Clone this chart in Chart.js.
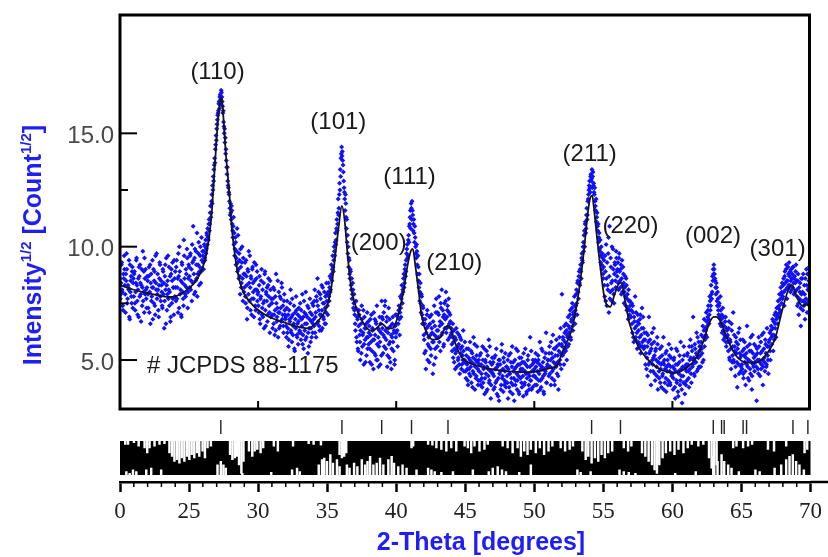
<!DOCTYPE html>
<html>
<head>
<meta charset="utf-8">
<script src="https://cdn.jsdelivr.net/npm/chart.js@4.4.1/dist/chart.umd.min.js"></script>
<style>
  html, body { margin: 0; padding: 0; background: #fff; }
  #wrap { width: 828px; height: 557px; }
</style>
</head>
<body>
<div id="wrap"><canvas id="xrd" width="828" height="557"></canvas></div>
<script>
// observed pattern, sqrt(counts), 2-theta from 20 deg in 0.05 deg steps
const twoThetaStart = 20;
const twoThetaStep = 0.05;
const intensity = [
  8.6,7.9,9.2,8.1,7.4,8.8,9.6,8.3,7.1,8.5,9.0,7.7,8.2,9.4,6.8,8.0,8.7,7.5,9.1,8.4, // 20
  7.8,8.9,7.2,8.4,9.5,7.6,8.1,6.9,8.7,9.2,7.9,8.3,7.4,9.8,8.0,7.1,8.6,9.0,7.7,8.2, // 21
  8.5,7.3,9.1,8.0,6.6,8.8,7.8,9.4,8.2,7.5,8.9,7.0,8.4,9.7,7.9,8.1,6.9,8.6,9.2,7.6, // 22
  8.3,7.4,9.0,7.9,6.4,8.7,8.1,9.5,7.2,8.5,7.7,9.1,8.0,6.7,8.8,7.5,9.3,8.2,7.0,8.6, // 23
  8.9,7.6,9.4,8.2,7.1,8.7,10.0,7.9,8.5,6.9,9.2,8.0,7.4,9.6,8.3,7.8,8.8,9.9,7.3,8.6, // 24
  9.1,8.2,9.7,8.5,7.6,9.3,10.9,8.8,9.5,8.0,9.8,8.6,7.8,9.2,10.2,8.9,9.6,8.4,10.4,9.0, // 25
  9.6,9.0,10.1,9.4,10.3,9.9,10.5,10.8,10.3,11.2,11.0,11.8,11.5,12.3,12.7,13.1,13.4,13.9,14.3,14.9, // 26
  15.2,15.6,15.9,16.3,16.1,16.7,16.5,16.8,16.4,15.9,15.5,15.0,14.6,14.1,13.8,13.2,12.9,12.6,12.3,11.7, // 27
  11.9,11.2,11.6,10.7,10.9,10.1,9.6,10.4,9.2,9.8,8.9,10.5,8.6,9.4,7.9,9.1,8.4,10.0,7.6,8.8, // 28
  8.2,9.3,7.5,8.7,6.8,9.0,7.9,8.4,9.6,7.2,8.6,7.7,9.1,8.0,6.9,8.5,7.4,9.2,8.1,7.6, // 29
  8.0,7.1,8.7,6.6,7.8,9.0,7.3,6.9,8.4,7.6,8.9,6.5,7.9,8.2,7.0,8.6,7.4,6.2,8.1,7.7, // 30
  7.5,6.4,8.2,7.0,6.1,7.8,8.8,6.7,7.3,6.0,8.0,7.1,6.5,7.7,8.4,6.8,7.4,6.2,7.9,7.0, // 31
  6.9,6.0,7.6,6.4,5.6,7.2,6.7,8.1,6.2,5.8,7.0,6.5,7.4,5.4,6.8,7.8,6.1,6.6,5.7,7.3, // 32
  6.3,7.5,5.9,6.8,7.9,6.1,5.5,7.1,6.6,8.0,6.0,6.9,5.3,7.3,6.4,7.7,5.8,6.7,7.0,6.2, // 33
  7.4,6.5,8.1,6.9,6.0,7.6,8.6,6.7,7.2,6.3,7.9,7.0,8.3,6.4,7.5,6.8,8.0,7.3,6.6,8.4, // 34
  7.9,7.0,8.4,7.6,8.7,8.1,9.2,8.5,9.6,8.9,10.0,9.6,10.6,10.3,11.2,11.0,12.1,11.7,12.8,13.4, // 35
  13.9,14.4,14.2,13.6,12.9,12.4,11.6,11.9,10.8,10.2,9.7,9.1,9.4,8.6,8.9,8.1,7.7,8.4,7.3,7.9, // 36
  7.0,6.3,7.6,5.8,6.8,5.4,7.2,6.1,5.0,6.6,7.4,5.6,6.2,4.8,6.9,5.9,6.4,5.2,7.1,6.0, // 37
  5.7,6.5,4.9,6.1,7.0,5.4,6.3,4.6,5.9,6.8,5.2,6.6,7.4,5.0,6.0,5.6,6.9,4.8,6.2,7.6, // 38
  6.4,5.3,7.1,6.0,7.6,5.5,6.7,4.7,6.2,7.3,5.1,5.8,6.5,4.6,6.0,6.9,5.4,6.3,5.0,7.0, // 39
  6.2,7.0,5.6,6.6,7.4,6.1,7.8,6.9,8.3,7.5,8.0,8.8,8.4,9.2,8.9,9.7,10.1,9.6,10.5,10.9, // 40
  11.3,10.8,11.7,12.0,11.4,11.0,10.6,10.9,10.0,9.5,9.8,8.8,9.1,8.2,7.6,8.4,7.1,7.8,6.6,7.3, // 41
  6.1,5.3,6.8,4.6,6.4,7.2,5.7,6.0,4.9,6.6,5.5,7.0,6.2,4.4,5.8,7.4,6.5,5.1,7.7,6.3, // 42
  7.1,6.0,7.8,6.5,5.4,7.3,8.1,6.2,6.9,5.7,7.5,6.8,8.0,6.4,7.2,5.9,7.7,6.6,7.0,6.1, // 43
  6.2,5.4,6.6,5.8,4.9,6.0,5.3,6.4,4.7,5.6,5.1,6.1,4.4,5.5,5.9,4.8,5.2,6.3,4.5,5.0, // 44
  4.9,4.2,5.5,4.6,3.9,5.1,4.4,5.8,4.7,4.0,5.3,4.5,6.0,4.8,3.7,5.0,4.3,5.6,4.6,4.1, // 45
  4.5,5.2,3.9,4.8,4.2,5.6,4.0,4.7,3.5,5.0,4.4,5.4,3.7,4.6,5.9,4.1,4.9,3.3,4.5,5.1, // 46
  4.4,3.7,5.1,4.6,4.0,5.5,3.5,4.8,4.2,3.2,5.0,4.5,3.9,5.7,4.3,3.6,4.9,4.1,5.3,3.8, // 47
  4.7,4.0,3.3,5.2,4.4,3.6,4.9,4.2,5.6,3.9,4.5,3.2,5.0,4.1,4.7,3.7,5.4,4.3,3.5,4.8, // 48
  4.2,5.1,3.8,4.6,3.4,4.9,4.0,5.5,4.4,3.6,4.7,5.2,3.9,4.3,6.0,4.1,3.7,4.8,5.0,4.5, // 49
  4.6,3.9,5.3,4.2,4.9,3.6,5.0,4.4,5.8,4.1,3.8,4.7,5.4,4.3,3.5,5.1,4.5,6.2,4.0,4.8, // 50
  5.0,4.3,5.6,4.7,3.9,5.3,4.5,6.1,4.9,4.1,5.5,4.8,5.9,4.4,5.2,3.7,5.7,5.0,6.4,4.6, // 51
  7.9,5.2,5.9,4.8,6.2,5.5,6.6,5.0,6.0,6.9,5.7,6.4,7.2,5.9,6.8,7.5,6.3,7.0,7.8,6.6, // 52
  7.4,8.1,7.0,8.5,7.7,8.9,8.3,9.2,8.6,9.7,9.3,10.2,10.5,10.0,11.1,10.8,11.7,11.4,12.1,12.5, // 53
  12.9,12.4,13.2,13.0,12.6,13.3,12.8,12.3,12.0,11.6,11.1,11.5,10.7,10.2,10.6,9.8,9.3,10.0,9.0,9.5, // 54
  8.6,9.4,7.8,8.9,10.1,7.4,8.3,9.7,7.1,10.9,8.0,9.1,7.6,8.5,9.9,7.9,8.8,9.2,8.2,9.5, // 55
  8.7,9.3,8.1,9.7,8.5,9.0,7.9,9.4,8.3,8.8,7.5,8.2,7.8,8.6,7.2,7.9,6.8,7.6,7.0,7.4, // 56
  6.9,7.5,6.2,7.1,5.8,6.7,7.8,6.0,6.5,5.5,7.0,6.3,5.7,6.8,5.3,6.1,7.3,5.6,6.4,5.9, // 57
  5.6,4.8,6.2,5.1,4.3,5.8,6.9,4.9,5.4,3.9,5.7,5.0,4.5,6.4,5.2,4.1,5.5,4.7,6.0,3.7, // 58
  4.9,4.2,5.5,4.6,3.8,5.2,4.4,6.0,4.8,4.0,5.3,3.6,4.7,5.0,4.1,5.7,4.5,3.9,5.1,4.3, // 59
  4.4,3.7,5.0,4.6,3.3,4.8,4.1,5.4,3.6,4.5,4.9,3.9,5.8,4.3,3.1,4.7,4.0,5.2,3.5,4.6, // 60
  4.8,4.1,5.3,4.5,3.8,5.0,5.9,4.4,5.6,4.7,6.9,5.1,4.3,5.5,4.9,6.2,5.2,4.6,5.8,5.4, // 61
  5.6,4.7,6.1,5.3,6.5,5.0,6.8,5.9,6.3,7.1,6.0,6.9,7.4,6.6,7.8,7.2,8.3,7.7,8.7,9.0, // 62
  9.2,8.8,8.5,7.9,8.2,7.4,7.7,7.0,7.5,6.6,7.2,6.8,6.2,7.3,5.9,6.5,6.0,6.9,5.6,6.3, // 63
  6.1,5.4,6.7,5.0,5.8,4.6,6.3,5.2,7.1,4.9,5.6,4.3,6.0,5.3,3.8,5.7,4.8,6.4,5.1,4.5, // 64
  5.2,4.6,5.9,4.2,5.5,4.9,3.9,5.3,6.5,4.7,5.0,4.1,5.7,4.4,5.4,3.7,6.1,4.8,5.1,4.5, // 65
  4.9,5.6,3.2,5.3,4.6,6.0,5.0,4.3,5.8,4.8,5.4,3.9,6.2,5.1,4.5,5.7,4.7,6.4,5.2,4.4, // 66
  5.6,6.2,5.0,6.5,5.7,6.8,5.4,6.1,7.0,6.4,6.0,7.3,6.6,7.6,6.9,7.9,7.2,8.2,7.5,8.4, // 67
  7.8,8.6,7.4,8.9,8.1,9.2,7.7,8.5,8.8,9.3,8.3,8.0,9.0,8.6,8.2,9.1,7.9,8.7,8.4,9.2, // 68
  8.1,7.4,8.8,7.0,7.7,8.4,6.5,7.9,8.6,7.2,7.6,8.3,6.8,7.5,9.0,7.1,8.1,7.6,9.1,8.0, // 69
  7.6
];

// the in-between scan points, 2-theta from 20.025 deg in 0.05 deg steps
const halfStart = 20.025;
const intensityHalf = [
  7.7,8.4,9.3,8.0,7.2,8.6,9.0,7.9,8.8,9.7,7.5,8.3,8.1,6.9,9.2,8.5,7.8,8.9,7.3,8.6, // 20
  8.8,7.5,8.0,9.4,8.3,7.0,8.6,9.1,7.8,8.4,6.7,9.0,8.2,7.6,8.9,9.5,7.9,8.1,7.3,8.7, // 21
  7.9,8.7,7.1,9.2,8.4,7.6,8.2,6.8,9.0,8.5,7.4,9.6,8.1,7.7,8.8,7.2,8.3,9.3,7.8,8.5, // 22
  8.0,7.3,8.9,8.4,7.6,9.2,6.6,8.3,7.9,9.6,8.1,7.4,8.7,6.9,9.0,8.5,7.7,8.2,9.4,7.8, // 23
  8.2,9.1,7.7,8.6,9.7,7.3,8.9,8.1,7.0,9.3,8.4,7.7,10.3,8.6,7.9,9.0,8.2,9.5,8.0,9.2, // 24
  8.7,9.6,8.1,9.0,10.1,8.4,9.4,7.9,9.9,8.5,9.2,10.6,8.8,9.7,8.3,9.1,10.0,8.9,9.4,9.8, // 25
  9.3,9.8,9.5,10.0,9.7,10.6,10.1,10.4,11.0,10.7,11.5,11.3,12.0,11.9,12.5,12.9,13.6,13.7,14.5,14.7, // 26
  15.4,15.8,16.0,16.4,16.6,16.3,16.9,16.6,16.2,16.0,15.3,15.2,14.8,14.3,13.5,13.5,12.7,12.4,12.0,11.4, // 27
  11.5,11.8,11.0,10.4,11.3,10.6,9.9,10.2,9.5,10.8,9.3,9.0,9.7,8.7,9.9,8.2,9.3,8.6,9.5,8.0, // 28
  8.8,7.8,9.4,8.3,7.3,8.9,9.8,7.6,8.2,8.7,7.0,9.0,8.4,7.7,9.3,8.1,7.2,8.6,8.9,7.9, // 29
  7.4,8.3,6.8,7.7,8.5,7.0,8.1,7.5,6.4,8.8,7.2,8.0,7.6,6.7,8.3,7.8,7.1,8.5,6.9,7.5, // 30
  7.0,7.7,6.6,8.1,7.2,6.3,7.5,6.9,8.5,7.1,6.4,7.8,7.3,6.7,8.2,7.0,6.5,7.6,7.2,6.8, // 31
  6.5,7.3,6.2,7.0,5.9,6.8,7.5,6.3,6.9,7.7,6.1,6.6,5.5,7.1,6.4,7.2,6.0,7.0,6.7,6.2, // 32
  6.9,6.2,7.2,6.5,5.7,6.9,7.6,6.3,5.9,7.0,6.6,7.4,6.2,5.6,6.8,7.1,6.4,6.0,7.5,6.6, // 33
  6.8,7.6,6.2,7.1,7.8,6.6,7.4,8.0,6.5,7.0,7.7,6.3,7.2,8.2,6.9,7.5,6.6,7.8,7.1,7.6, // 34
  7.4,8.0,7.8,8.2,8.0,8.6,8.8,9.0,9.1,9.4,9.8,10.2,10.1,10.8,10.7,11.5,11.4,12.3,12.5,13.1, // 35
  14.1,14.0,13.8,13.3,12.6,12.1,12.3,11.3,11.2,10.5,10.0,9.5,8.8,9.0,8.3,8.6,7.9,8.1,7.5,7.2, // 36
  6.6,7.3,6.0,6.9,5.5,6.5,7.0,5.8,6.3,5.3,6.8,6.1,7.2,5.7,6.4,4.9,6.6,6.0,5.5,6.7, // 37
  6.2,5.5,6.8,5.8,4.8,6.4,5.9,7.1,5.3,6.1,6.7,5.0,5.7,6.4,4.7,6.3,5.8,6.6,5.2,6.9, // 38
  6.8,6.1,5.6,7.4,6.3,5.9,6.9,5.2,6.4,5.7,6.8,4.9,6.1,5.5,6.6,5.8,6.2,4.8,6.5,6.0, // 39
  6.6,6.3,6.9,7.2,6.8,7.1,7.3,7.7,7.9,8.1,8.6,8.2,9.0,8.7,9.4,9.9,9.5,10.3,10.2,11.0, // 40
  11.6,11.9,11.2,11.6,10.7,11.2,10.2,10.4,9.7,10.1,9.2,9.6,8.5,8.8,8.0,7.5,7.9,7.0,7.4,6.8, // 41
  5.9,6.6,5.4,6.2,7.0,5.0,6.5,5.6,6.9,6.1,5.2,6.4,5.8,6.7,4.8,6.1,5.5,7.1,6.0,5.6, // 42
  6.3,7.0,5.8,6.7,7.5,6.1,6.6,7.2,5.6,7.0,6.4,7.6,6.2,6.9,7.4,6.5,7.1,6.0,6.7,6.4, // 43
  5.7,6.0,5.1,6.3,5.5,4.6,5.9,5.4,6.2,5.0,5.7,4.8,6.0,5.3,4.6,5.6,5.0,5.4,4.9,5.8, // 44
  4.5,5.2,4.8,4.1,5.5,4.6,5.0,4.3,5.4,4.9,3.8,5.1,4.4,5.7,4.7,4.2,5.2,4.9,3.9,5.0, // 45
  4.8,4.1,5.3,4.4,3.8,5.0,4.6,5.5,4.2,4.9,3.6,4.7,5.2,4.3,4.0,5.6,4.5,3.9,4.8,4.4, // 46
  4.9,4.3,3.8,5.2,4.6,4.1,4.7,3.4,5.0,4.4,4.8,3.7,5.4,4.2,4.6,5.1,3.9,4.5,4.0,4.7, // 47
  4.3,5.0,4.6,3.8,4.4,5.3,4.0,4.7,3.5,4.9,4.2,4.6,3.9,5.5,4.4,4.1,4.8,3.6,5.1,4.5, // 48
  4.6,4.0,4.9,4.3,5.3,3.9,4.5,4.8,3.5,4.2,5.0,4.4,3.7,4.7,4.1,5.4,4.5,3.8,4.3,4.9, // 49
  4.3,5.0,4.7,3.9,4.5,5.2,4.1,4.8,3.7,4.6,5.5,4.2,4.9,3.6,4.6,4.4,5.3,4.0,4.7,5.0, // 50
  4.7,5.3,4.4,5.0,5.8,4.2,5.1,4.6,5.5,3.9,5.2,4.7,5.6,4.9,4.3,5.4,6.0,4.8,5.3,5.7, // 51
  5.6,6.0,5.3,6.5,5.8,5.4,6.3,6.1,5.6,6.5,6.2,7.0,6.0,6.7,7.3,6.5,7.1,6.9,7.4,7.2, // 52
  7.9,7.5,8.4,8.0,8.7,8.4,9.0,8.9,9.5,9.4,10.0,9.8,10.7,11.0,10.6,11.4,11.2,12.0,12.3,12.7, // 53
  12.6,13.1,12.9,13.4,13.1,12.7,12.4,12.6,11.8,12.1,11.3,10.9,11.0,10.4,9.9,10.3,9.6,9.2,9.7,8.8, // 54
  9.1,8.3,9.6,7.6,8.6,9.3,8.1,10.4,8.7,7.7,9.5,8.4,10.0,8.1,9.0,7.5,9.3,8.5,9.8,8.9, // 55
  9.0,8.4,9.5,8.9,8.2,9.2,8.6,8.0,9.1,8.4,8.0,8.7,7.4,8.3,7.7,7.3,8.1,7.2,7.6,6.9, // 56
  7.2,6.6,7.4,6.0,6.9,6.4,5.9,7.1,6.2,6.7,5.8,6.6,6.0,7.0,5.6,6.4,5.8,6.9,5.5,6.2, // 57
  5.9,5.3,4.6,5.6,6.1,4.8,5.3,5.9,4.5,5.5,6.2,4.8,5.1,5.8,4.4,5.4,5.0,4.3,5.7,4.9, // 58
  4.5,5.1,4.0,4.8,5.6,4.3,4.9,3.7,5.0,4.6,4.2,5.4,4.5,3.9,4.8,5.2,4.0,4.7,5.5,4.4, // 59
  4.7,4.2,5.1,3.8,4.5,5.5,4.0,4.8,3.4,4.4,5.2,4.1,4.6,3.7,5.0,4.3,5.6,4.0,4.7,3.9, // 60
  4.5,5.2,4.8,4.2,5.6,4.6,5.1,4.0,5.4,4.8,5.0,4.4,5.7,4.9,5.3,4.5,6.0,5.1,4.7,5.6, // 61
  5.2,5.8,5.5,4.9,6.0,6.3,5.6,6.4,6.1,6.7,6.5,7.2,6.8,7.0,7.6,7.4,7.9,8.0,8.5,8.8, // 62
  9.0,8.6,8.2,8.4,7.6,8.0,7.2,7.4,6.9,7.8,6.5,7.0,6.6,6.3,6.9,6.1,6.7,5.8,6.4,6.0, // 63
  5.8,6.4,5.1,5.9,5.5,6.6,4.9,5.6,5.0,6.1,5.4,4.7,5.8,4.9,5.5,6.2,4.4,5.3,5.9,4.7, // 64
  4.8,5.4,4.4,5.2,5.8,4.5,5.1,4.8,5.6,4.2,5.0,5.4,4.6,6.0,4.9,4.3,5.3,4.7,5.7,4.9, // 65
  5.2,4.7,5.5,5.0,4.4,5.6,4.9,5.3,4.6,6.1,5.0,4.7,5.5,4.9,5.9,5.3,4.8,5.6,5.0,5.8, // 66
  5.9,5.4,6.3,6.0,6.1,6.4,6.7,5.9,6.6,7.1,6.8,6.9,7.0,7.3,7.4,7.1,7.7,7.9,8.0,7.7, // 67
  8.3,8.0,8.7,8.4,9.0,8.5,8.2,9.1,8.3,8.7,8.9,8.5,8.1,8.8,9.1,8.4,8.6,8.0,8.9,8.5, // 68
  7.8,8.5,7.5,8.2,8.0,7.3,8.6,7.6,8.0,8.8,7.4,7.9,8.6,7.7,8.3,8.8,7.5,8.5,8.2,8.7  // 69
];

// refined (calculated) profile
const fitTheta = [20.0,21.0,22.0,23.0,23.6,24.5,25.5,26.0,26.3,26.6,26.8,27.0,27.2,27.35,27.5,27.65,27.9,28.1,28.4,28.8,
  29.5,30.5,31.7,32.9,33.6,34.3,34.95,35.3,35.55,35.8,36.07,36.26,36.5,36.74,37.1,37.7,38.2,38.6,38.9,39.1,
  39.35,39.7,40.2,40.57,40.8,41.05,41.2,41.4,41.64,41.86,42.2,42.7,43.2,43.66,43.9,44.27,44.73,45.7,46.9,48.1,
  49.3,50.3,51.0,51.7,52.0,52.76,53.24,53.6,53.84,54.07,54.2,54.3,54.56,54.8,55.13,55.5,55.84,56.2,56.3,56.56,
  56.9,57.55,58.26,59.2,60.15,61.13,61.73,62.2,62.67,63.0,63.16,63.5,64.0,64.6,65.3,66.0,66.74,67.46,67.95,68.4,
  68.66,69.0,69.4,69.7,70.0];
const fitIntensity = [8.31,8.1,7.95,7.82,7.78,7.95,8.5,9.1,9.8,11.2,12.9,14.8,16.2,16.6,15.6,14.2,12.5,10.8,9.3,8.2,
  7.5,7.0,6.7,6.46,6.4,6.7,7.3,8.2,9.4,10.7,11.8,11.2,9.5,8.2,7.3,6.55,6.3,6.4,6.6,6.55,
  6.4,6.4,7.1,8.2,9.1,9.8,9.9,9.1,7.95,6.9,6.2,5.9,6.0,6.5,6.45,5.75,5.13,4.78,4.6,4.5,
  4.47,4.5,4.62,4.8,5.3,6.46,8.1,9.85,11.3,12.2,12.25,11.8,10.3,9.0,7.6,7.35,7.95,8.4,8.4,7.65,
  6.6,5.57,5.0,4.56,4.43,4.7,5.1,5.75,6.63,6.9,6.9,6.68,5.9,5.2,4.9,4.88,5.2,6.0,7.2,8.1,
  8.3,7.8,7.4,7.45,7.3];

// JCPDS 88-1175 reflection positions
const braggTheta = [27.3,36.07,38.95,41.11,43.75,54.15,56.24,62.96,63.56,63.75,65.12,65.37,68.73,69.81];

// difference strip: white gaps hanging from the top / rising from the bottom (fraction of strip)
const diffDownTheta = [20.38,20.58,21.01,21.35,21.78,21.97,22.14,22.5,22.86,23.22,23.58,23.77,23.94,24.13,24.3,24.47,24.66,24.85,25.02,25.19,
  25.38,25.57,25.74,25.98,26.15,26.34,26.58,27.97,28.14,28.31,28.46,28.62,28.79,28.94,29.34,29.58,29.75,29.94,30.18,30.37,
  31.14,31.43,32.53,33.66,34.02,34.55,35.9,36.07,36.23,36.38,41.11,41.23,42.31,42.62,42.91,43.27,43.63,43.99,44.35,44.95,
  45.19,45.43,45.67,46.03,46.39,46.63,47.71,48.07,48.43,48.79,49.03,49.27,49.51,49.75,50.11,50.4,50.71,51.03,51.31,51.91,
  52.23,52.56,52.8,53.48,53.72,53.91,54.15,54.39,54.63,54.87,55.11,55.35,55.64,56.48,56.79,57.03,57.8,58.04,58.28,58.52,
  58.71,58.88,59.05,59.29,59.53,59.84,60.15,60.44,60.8,61.11,61.4,61.88,62.24,62.65,62.84,63.03,63.2,64.4,64.64,65.12,
  65.48,65.77,66.92,67.36,68.24,69.57,69.76];
const diffDownDepth = [0.1,0.1,0.05,0.15,0.2,0.35,0.2,0.15,0.1,0.08,0.35,0.45,0.6,0.55,0.65,0.5,0.6,0.45,0.55,0.4,
  0.5,0.35,0.45,0.3,0.5,0.2,0.15,0.4,0.55,0.5,0.45,0.7,0.95,0.6,0.3,0.45,0.3,0.25,0.35,0.2,
  0.15,0.3,0.15,0.08,0.1,0.12,0.4,0.5,0.45,0.35,0.2,0.15,0.1,0.12,0.2,0.25,0.3,0.2,0.3,0.15,
  0.2,0.35,0.15,0.3,0.25,0.1,0.15,0.2,0.35,0.2,0.45,0.3,0.4,0.25,0.35,0.2,0.4,0.3,0.15,0.2,
  0.3,0.25,0.15,0.3,0.55,0.45,0.65,0.5,0.6,0.4,0.5,0.35,0.3,0.2,0.3,0.15,0.35,0.45,0.6,0.7,
  0.85,0.95,0.7,0.5,0.35,0.3,0.4,0.25,0.35,0.2,0.1,0.15,0.1,0.5,0.8,1.0,0.7,0.2,0.15,0.2,
  0.15,0.1,0.25,0.3,0.15,0.35,0.25];
const diffUpTheta = [20.46,20.7,20.94,21.18,21.9,22.26,22.98,27.06,27.3,27.49,27.66,28.86,30.95,32.46,32.82,33.02,34.39,34.63,34.79,34.99,
  35.23,35.42,35.71,35.9,36.43,36.62,36.95,37.19,37.51,37.75,37.92,38.11,38.35,38.59,38.83,39.07,39.43,39.67,39.84,40.15,
  40.46,40.75,41.47,42.31,42.55,42.79,43.27,44.11,45.55,46.7,46.99,47.35,47.66,47.95,48.91,49.75,53.12,53.36,54.08,56.17,
  56.48,56.84,57.32,60.2,61.69,62.96,63.27,63.56,63.75,64.04,64.28,64.81,66.01,66.32,67.4,67.88,68.24,68.48,68.72,68.96,
  69.2,69.52];
const diffUpHeight = [0.1,0.05,0.15,0.1,0.15,0.2,0.15,0.3,0.4,0.3,0.2,0.05,0.08,0.15,0.2,0.1,0.3,0.45,0.5,0.4,
  0.6,0.35,0.45,0.25,0.3,0.2,0.35,0.25,0.45,0.3,0.4,0.55,0.3,0.35,0.5,0.3,0.45,0.55,0.35,0.25,
  0.3,0.2,0.15,0.2,0.15,0.1,0.08,0.1,0.15,0.1,0.2,0.25,0.15,0.1,0.08,0.3,0.15,0.08,0.1,0.15,
  0.1,0.08,0.05,0.05,0.1,0.55,0.4,0.6,0.4,0.3,0.2,0.1,0.15,0.1,0.2,0.3,0.45,0.55,0.6,0.4,
  0.3,0.15];

// peak labels (text, 2-theta, intensity of label centre)
const hklText = ["(110)","(101)","(111)","(200)","(210)","(211)","(220)","(002)","(301)"];
const hklTheta = [27.06,35.81,40.97,38.73,44.21,54.01,56.96,62.94,67.62];
const hklY = [17.7,15.5,13.07,10.16,9.28,14.09,10.91,10.47,9.9];

const yTickValues = [5, 10, 15];
const yMinorValues = [7.5, 12.5];
const xInnerTicks = [30, 40, 50, 60];

const blue = "#1f1ff5";
const sans = '"Liberation Sans", Arial, sans-serif';
const boxBottom = 2.84; // lower edge of the main frame, in intensity units

const obsPoints = intensity.map((v, i) => ({ x: twoThetaStart + i * twoThetaStep, y: v }))
  .concat(intensityHalf.map((v, i) => ({ x: halfStart + i * twoThetaStep, y: v })));
const fitPoints = fitTheta.map((t, i) => ({ x: t, y: fitIntensity[i] }));
const braggPoints = braggTheta.map((t) => ({ x: t, y: 1.41 }));
const downBars = diffDownTheta.map((t, i) => ({ x: t, y: [1 - diffDownDepth[i], 1] }));
const upBars = diffUpTheta.map((t, i) => ({ x: t, y: [0, diffUpHeight[i]] }));

function line(ctx, x1, y1, x2, y2) {
  ctx.beginPath();
  ctx.moveTo(x1, y1);
  ctx.lineTo(x2, y2);
  ctx.stroke();
}

const decor = {
  id: "decor",
  beforeDatasetsDraw(chart) {
    const { ctx, scales: { x, y2 } } = chart;
    const l = x.getPixelForValue(20), r = x.getPixelForValue(70);
    const t = y2.getPixelForValue(1), b = y2.getPixelForValue(0);
    ctx.save();
    ctx.fillStyle = "#000";
    ctx.fillRect(l, t, r - l, b - t);
    ctx.restore();
  },
  afterDatasetsDraw(chart) {
    const { ctx, chartArea, scales: { x, y } } = chart;
    const l = x.getPixelForValue(20), r = x.getPixelForValue(70);
    const top = chartArea.top, bot = y.getPixelForValue(boxBottom);
    ctx.save();
    ctx.strokeStyle = "#000";
    ctx.lineWidth = 3;
    ctx.strokeRect(l, top, r - l - 1, bot - top);
    ctx.lineWidth = 2;
    yTickValues.forEach((v) => line(ctx, l, y.getPixelForValue(v), l + 17, y.getPixelForValue(v)));
    yMinorValues.forEach((v) => line(ctx, l, y.getPixelForValue(v), l + 8, y.getPixelForValue(v)));
    xInnerTicks.forEach((v) => line(ctx, x.getPixelForValue(v), bot, x.getPixelForValue(v), bot - 8));
    // minor ticks on the bottom axis
    ctx.lineWidth = 1.5;
    for (let v = 21; v < 70; v++) {
      if (v % 5 === 0) continue;
      line(ctx, x.getPixelForValue(v), chartArea.bottom, x.getPixelForValue(v), chartArea.bottom + 5);
    }
    ctx.lineWidth = 2.5;
    line(ctx, r, chartArea.bottom, chart.width, chartArea.bottom);
    ctx.restore();
  },
  afterDraw(chart) {
    const { ctx, scales: { x, y } } = chart;
    ctx.save();
    // y tick labels
    ctx.font = "24px " + sans;
    ctx.fillStyle = "#4a4a4a";
    ctx.textAlign = "right";
    ctx.textBaseline = "middle";
    yTickValues.forEach((v) => ctx.fillText(v.toFixed(1), x.getPixelForValue(20) - 6, y.getPixelForValue(v) + 3));
    // peak labels
    ctx.fillStyle = "#1a1a1a";
    ctx.textAlign = "center";
    hklText.forEach((s, i) => ctx.fillText(s, x.getPixelForValue(hklTheta[i]), y.getPixelForValue(hklY[i])));
    ctx.textAlign = "left";
    ctx.fillText("# JCPDS 88-1175", x.getPixelForValue(21.95), y.getPixelForValue(4.74));
    // x title
    ctx.fillStyle = blue;
    ctx.font = "bold 25px " + sans;
    ctx.textAlign = "center";
    ctx.fillText("2-Theta [degrees]", 481, 543);
    // y title with superscripts
    const big = "bold 25px " + sans, small = "bold 15px " + sans;
    const parts = [["Intensity", big, 0], ["1/2", small, -10], [" [Count", big, 0], ["1/2", small, -10], ["]", big, 0]];
    let total = 0;
    parts.forEach((p) => { ctx.font = p[1]; total += ctx.measureText(p[0]).width; });
    ctx.translate(41, 245);
    ctx.rotate(-Math.PI / 2);
    ctx.textAlign = "left";
    ctx.textBaseline = "alphabetic";
    let cx = -total / 2;
    parts.forEach((p) => {
      ctx.font = p[1];
      ctx.fillText(p[0], cx, p[2]);
      cx += ctx.measureText(p[0]).width;
    });
    ctx.restore();
  },
};

new Chart(document.getElementById("xrd"), {
  type: "scatter",
  data: {
    datasets: [
      {
        type: "line",
        label: "calc",
        data: fitPoints,
        borderColor: "#151515",
        borderWidth: 1.8,
        pointRadius: 0,
        cubicInterpolationMode: "monotone",
        yAxisID: "y",
        order: 1,
      },
      {
        type: "scatter",
        label: "obs",
        data: obsPoints,
        pointStyle: "rectRot",
        pointRadius: 2.5,
        backgroundColor: "#1010ff",
        borderWidth: 0,
        yAxisID: "y",
        order: 2,
      },
      {
        type: "scatter",
        label: "bragg",
        data: braggPoints,
        pointStyle: "line",
        rotation: 90,
        pointRadius: 7,
        borderColor: "#222",
        borderWidth: 1.4,
        yAxisID: "y2",
        order: 3,
      },
      {
        type: "bar",
        label: "diff down",
        data: downBars,
        backgroundColor: "#fff",
        barThickness: 1.8,
        grouped: false,
        yAxisID: "y2",
        order: 4,
      },
      {
        type: "bar",
        label: "diff up",
        data: upBars,
        backgroundColor: "#fff",
        barThickness: 1.8,
        grouped: false,
        yAxisID: "y2",
        order: 5,
      },
    ],
  },
  options: {
    responsive: false,
    animation: false,
    layout: { padding: { left: 120, right: 14, top: 15, bottom: 0 } },
    plugins: { legend: { display: false }, tooltip: { enabled: false } },
    scales: {
      x: {
        type: "linear",
        min: 20,
        max: 70,
        offset: false,
        afterFit: (s) => { s.height = 75; },
        ticks: {
          stepSize: 5,
          autoSkip: false,
          maxRotation: 0,
          padding: 6,
          color: "#222",
          font: { family: '"Liberation Serif", "Times New Roman", serif', size: 23 },
          callback: (v) => (v === 20 ? "0" : String(v)),
        },
        grid: { offset: false, drawOnChartArea: false, drawTicks: true, tickLength: 10, tickWidth: 2.5, tickColor: "#000" },
        border: { display: true, color: "#000", width: 2.5 },
      },
      y: { type: "linear", display: false, min: -0.38, max: 20.22 },
      y2: { type: "linear", display: false, min: -0.206, max: 13.53 },
    },
  },
  plugins: [decor],
});
</script>
</body>
</html>
